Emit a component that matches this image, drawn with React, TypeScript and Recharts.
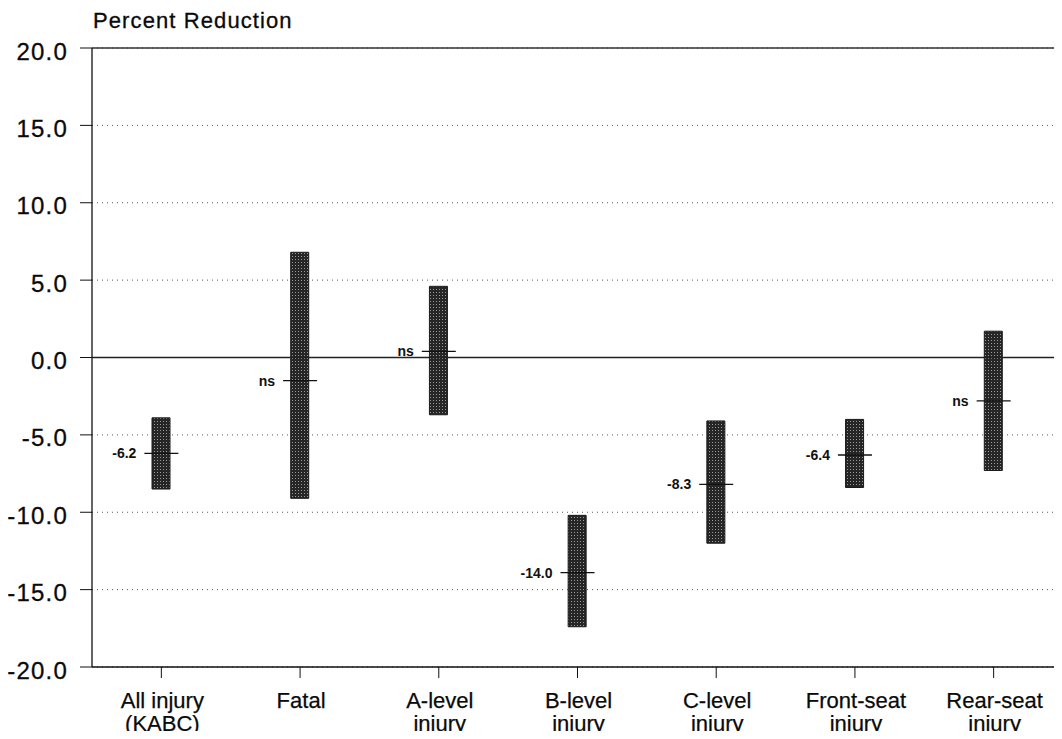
import React from "react";
import {
  ComposedChart,
  Bar,
  Scatter,
  XAxis,
  YAxis,
  CartesianGrid,
  ReferenceLine,
} from "recharts";

const categories = [
  "All injury (KABC)",
  "Fatal",
  "A-level injury",
  "B-level injury",
  "C-level injury",
  "Front-seat injury",
  "Rear-seat injury",
];
const tickLines: string[][] = [
  ["All injury", "(KABC)"],
  ["Fatal"],
  ["A-level", "injury"],
  ["B-level", "injury"],
  ["C-level", "injury"],
  ["Front-seat", "injury"],
  ["Rear-seat", "injury"],
];
const lows = [-8.5, -9.1, -3.7, -17.4, -12.0, -8.4, -7.3];
const highs = [-3.9, 6.8, 4.6, -10.2, -4.1, -4.0, 1.7];
const points = [-6.2, -1.5, 0.4, -13.9, -8.2, -6.3, -2.8];
const pointLabels = ["-6.2", "ns", "ns", "-14.0", "-8.3", "-6.4", "ns"];
const yTicks = [-20, -15, -10, -5, 0, 5, 10, 15, 20];

const data = categories.map((name, i) => ({
  name,
  range: [lows[i], highs[i]],
  point: points[i],
  label: pointLabels[i],
}));

const FONT = "'Liberation Sans', Arial, Helvetica, sans-serif";

const YTick = (props: any) => {
  const { x, y, payload } = props;
  return (
    <text
      x={x + 1}
      y={y + 3}
      dy="0.355em"
      textAnchor="end"
      fontSize={24}
      fontFamily={FONT}
      fill="#0a0a0a"
      letterSpacing={1.2}
      stroke="#0a0a0a"
      strokeWidth={0.3}
    >
      {Number(payload.value).toFixed(1)}
    </text>
  );
};

const XTick = (props: any) => {
  const { x, y, index } = props;
  const lines = tickLines[index] || [];
  return (
    <text
      textAnchor="middle"
      fontSize={22}
      fontFamily={FONT}
      fill="#0a0a0a"
      stroke="#0a0a0a"
      strokeWidth={0.25}
    >
      {lines.map((l, i) => (
        <tspan key={i} x={x + 1} y={y + 28 + i * 23}>
          {l}
        </tspan>
      ))}
    </text>
  );
};

const Marker = (props: any) => {
  const { cx, cy, payload } = props;
  if (cx == null || cy == null) return null;
  return (
    <g>
      <line x1={cx - 17} x2={cx + 17} y1={cy} y2={cy} stroke="#111" strokeWidth={1.3} />
      <text
        x={cx - 25}
        y={cy}
        dy="0.35em"
        textAnchor="end"
        fontSize={14}
        fontWeight="bold"
        fontFamily={FONT}
        fill="#111"
      >
        {payload.label}
      </text>
    </g>
  );
};

export default function App() {
  return (
    <div
      style={{
        position: "relative",
        width: 1062,
        height: 739,
        margin: "-8px 0 -8px -8px",
        overflow: "hidden",
      }}
    >
      <div
        style={{
          position: "absolute",
          left: 93,
          top: 8,
          fontFamily: FONT,
          fontSize: 22,
          letterSpacing: 1.1,
          color: "#0a0a0a",
          whiteSpace: "nowrap",
          lineHeight: "normal",
          WebkitTextStroke: "0.3px #0a0a0a",
        }}
      >
        Percent Reduction
      </div>
      <ComposedChart
        width={1063}
        height={739}
        data={data}
        margin={{ top: 48, right: 0, left: 0, bottom: 0 }}
      >
        <defs>
          <pattern id="stip" width="3" height="3" patternUnits="userSpaceOnUse">
            <rect width="3" height="3" fill="#262626" />
            <rect x="1" y="1" width="1" height="1" fill="#9a9a9a" />
          </pattern>
        </defs>
        <CartesianGrid vertical={false} stroke="#555" strokeDasharray="1 4" />
        <XAxis
          dataKey="name"
          type="category"
          height={72}
          tickSize={11}
          axisLine={{ stroke: "#111", strokeWidth: 1.3 }}
          tickLine={{ stroke: "#111" }}
          tick={<XTick />}
          interval={0}
        />
        <YAxis
          type="number"
          domain={[-20, 20]}
          ticks={yTicks}
          width={92}
          tickSize={12}
          tickMargin={13}
          axisLine={{ stroke: "#111", strokeWidth: 1.3 }}
          tickLine={{ stroke: "#111" }}
          tick={<YTick />}
          allowDataOverflow
        />
        <ReferenceLine y={0} stroke="#222" strokeWidth={1.3} />
        <ReferenceLine y={20} stroke="#333" strokeWidth={1.3} />
        <Bar
          dataKey="range"
          barSize={18}
          fill="url(#stip)"
          stroke="#1a1a1a"
          strokeWidth={1}
          isAnimationActive={false}
        />
        <Scatter dataKey="point" shape={<Marker />} isAnimationActive={false} />
      </ComposedChart>
    </div>
  );
}
